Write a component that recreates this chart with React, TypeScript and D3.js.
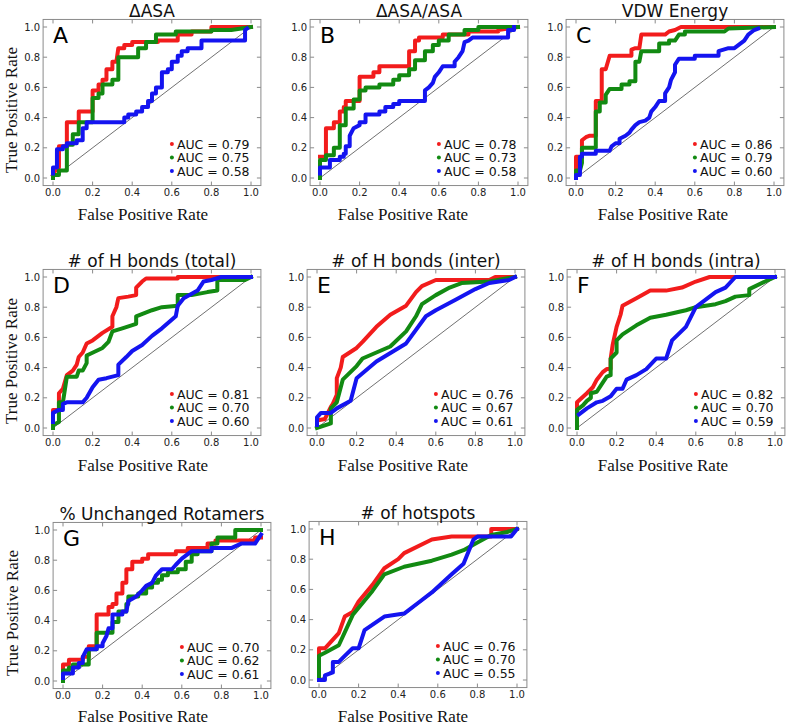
import React from "react";
import * as d3 from "d3";

type Pt = [number, number];

// ---------- data ----------
const panelTitles = ["ΔASA", "ΔASA/ASA", "VDW Energy", "# of H bonds (total)", "# of H bonds (inter)", "# of H bonds (intra)", "% Unchanged Rotamers", "# of hotspots"];
const panelLetters = ["A", "B", "C", "D", "E", "F", "G", "H"];
const aucRed = ["0.79", "0.78", "0.86", "0.81", "0.76", "0.82", "0.70", "0.76"];
const aucGreen = ["0.75", "0.73", "0.79", "0.70", "0.67", "0.70", "0.62", "0.70"];
const aucBlue = ["0.58", "0.58", "0.60", "0.60", "0.61", "0.59", "0.61", "0.55"];
const tickValues = [0, 0.2, 0.4, 0.6, 0.8, 1.0];
const tickLabels = ["0.0", "0.2", "0.4", "0.6", "0.8", "1.0"];

const aRed: Pt[] = [[0,0.02],[0.02,0.07],[0.03,0.07],[0.03,0.21],[0.05,0.21],[0.07,0.21],[0.07,0.37],[0.13,0.37],[0.13,0.44],[0.2,0.44],[0.2,0.58],[0.23,0.58],[0.23,0.62],[0.25,0.62],[0.25,0.65],[0.27,0.65],[0.27,0.72],[0.3,0.72],[0.3,0.77],[0.32,0.77],[0.33,0.86],[0.36,0.86],[0.36,0.88],[0.4,0.88],[0.4,0.9],[0.53,0.9],[0.53,0.91],[0.63,0.91],[0.63,0.95],[0.7,0.95],[0.7,0.97],[0.8,0.97],[0.8,1.0],[1,1]];
const aGreen: Pt[] = [[0,0],[0,0.02],[0.03,0.02],[0.03,0.05],[0.07,0.05],[0.07,0.22],[0.1,0.22],[0.1,0.29],[0.13,0.29],[0.13,0.37],[0.2,0.37],[0.2,0.53],[0.23,0.53],[0.23,0.56],[0.25,0.56],[0.25,0.62],[0.3,0.62],[0.3,0.65],[0.33,0.65],[0.33,0.8],[0.43,0.8],[0.43,0.86],[0.47,0.86],[0.47,0.9],[0.52,0.9],[0.52,0.95],[0.62,0.95],[0.62,0.97],[0.8,0.97],[0.8,0.98],[0.9,0.98],[1,1]];
const aBlue: Pt[] = [[0,0.03],[0,0.07],[0.02,0.07],[0.02,0.19],[0.05,0.19],[0.05,0.21],[0.07,0.21],[0.07,0.23],[0.12,0.23],[0.12,0.25],[0.15,0.25],[0.15,0.33],[0.17,0.33],[0.17,0.37],[0.36,0.37],[0.36,0.4],[0.38,0.4],[0.38,0.42],[0.42,0.42],[0.42,0.44],[0.45,0.44],[0.45,0.47],[0.48,0.47],[0.48,0.51],[0.5,0.51],[0.5,0.56],[0.52,0.56],[0.52,0.6],[0.55,0.6],[0.55,0.7],[0.58,0.7],[0.58,0.72],[0.6,0.72],[0.6,0.77],[0.63,0.77],[0.63,0.81],[0.65,0.81],[0.65,0.84],[0.68,0.84],[0.68,0.86],[0.75,0.86],[0.75,0.91],[0.97,0.91],[0.97,0.98],[0.98,0.99]];

const bRed: Pt[] = [[0,0.14],[0.03,0.14],[0.03,0.33],[0.07,0.33],[0.07,0.37],[0.1,0.37],[0.1,0.44],[0.12,0.44],[0.12,0.47],[0.13,0.47],[0.13,0.51],[0.2,0.51],[0.2,0.67],[0.27,0.67],[0.27,0.7],[0.3,0.7],[0.3,0.74],[0.45,0.74],[0.45,0.84],[0.48,0.84],[0.48,0.91],[0.5,0.91],[0.5,0.93],[0.62,0.93],[0.62,0.95],[0.75,0.95],[0.75,0.97],[0.9,0.97],[0.9,0.98],[1,1]];
const bGreen: Pt[] = [[0,0],[0,0.12],[0.03,0.12],[0.03,0.15],[0.07,0.15],[0.07,0.2],[0.1,0.2],[0.1,0.35],[0.13,0.35],[0.13,0.46],[0.17,0.46],[0.17,0.52],[0.2,0.52],[0.2,0.58],[0.23,0.58],[0.23,0.6],[0.3,0.6],[0.3,0.62],[0.37,0.62],[0.37,0.65],[0.4,0.65],[0.4,0.68],[0.45,0.68],[0.45,0.72],[0.48,0.72],[0.48,0.78],[0.53,0.78],[0.53,0.84],[0.57,0.84],[0.57,0.88],[0.6,0.88],[0.6,0.91],[0.65,0.91],[0.65,0.95],[0.73,0.95],[0.73,0.98],[0.8,0.98],[0.8,1.0],[1,1]];
const bBlue: Pt[] = [[0,0.03],[0,0.07],[0.05,0.07],[0.05,0.12],[0.1,0.12],[0.1,0.14],[0.12,0.14],[0.12,0.16],[0.13,0.16],[0.13,0.21],[0.15,0.21],[0.15,0.28],[0.17,0.33],[0.2,0.35],[0.2,0.37],[0.23,0.37],[0.23,0.42],[0.3,0.42],[0.3,0.44],[0.33,0.44],[0.33,0.47],[0.37,0.47],[0.37,0.49],[0.4,0.49],[0.4,0.51],[0.53,0.51],[0.53,0.58],[0.55,0.6],[0.57,0.63],[0.58,0.67],[0.6,0.7],[0.62,0.74],[0.68,0.74],[0.68,0.77],[0.7,0.8],[0.72,0.84],[0.73,0.9],[0.75,0.91],[0.77,0.93],[0.95,0.93],[0.95,0.98],[0.98,0.98],[0.98,1.0]];

const cRed: Pt[] = [[0,0.03],[0,0.14],[0.03,0.14],[0.03,0.25],[0.05,0.27],[0.07,0.28],[0.1,0.28],[0.1,0.51],[0.13,0.51],[0.13,0.72],[0.15,0.72],[0.17,0.81],[0.28,0.81],[0.28,0.85],[0.3,0.86],[0.32,0.86],[0.33,0.95],[0.45,0.95],[0.47,0.97],[0.5,0.98],[0.53,1.0],[1,1]];
const cGreen: Pt[] = [[0,0],[0,0.05],[0.02,0.05],[0.03,0.1],[0.03,0.2],[0.1,0.2],[0.1,0.44],[0.12,0.44],[0.12,0.5],[0.15,0.5],[0.15,0.55],[0.17,0.59],[0.23,0.59],[0.23,0.62],[0.27,0.62],[0.27,0.64],[0.3,0.64],[0.3,0.77],[0.32,0.77],[0.33,0.84],[0.42,0.84],[0.42,0.89],[0.47,0.89],[0.47,0.91],[0.5,0.91],[0.52,0.95],[0.55,0.95],[0.55,0.97],[0.75,0.97],[0.77,0.99],[1,1]];
const cBlue: Pt[] = [[0,0],[0,0.02],[0.02,0.02],[0.02,0.14],[0.03,0.14],[0.03,0.16],[0.1,0.16],[0.1,0.18],[0.17,0.18],[0.18,0.21],[0.2,0.23],[0.22,0.23],[0.22,0.26],[0.25,0.28],[0.27,0.3],[0.28,0.32],[0.3,0.35],[0.32,0.37],[0.35,0.38],[0.37,0.4],[0.38,0.44],[0.4,0.47],[0.42,0.51],[0.45,0.51],[0.45,0.56],[0.47,0.6],[0.48,0.65],[0.5,0.7],[0.5,0.75],[0.52,0.79],[0.6,0.79],[0.6,0.81],[0.72,0.81],[0.72,0.84],[0.77,0.86],[0.8,0.86],[0.82,0.88],[0.85,0.91],[0.87,0.95],[0.9,0.98],[0.92,0.99]];

const dRed: Pt[] = [[0,0.03],[0,0.12],[0.03,0.12],[0.03,0.23],[0.05,0.26],[0.07,0.35],[0.1,0.38],[0.12,0.42],[0.13,0.47],[0.15,0.5],[0.17,0.56],[0.2,0.58],[0.25,0.63],[0.3,0.67],[0.3,0.74],[0.32,0.8],[0.33,0.86],[0.38,0.87],[0.42,0.88],[0.42,0.93],[0.45,0.97],[0.47,0.99],[0.63,0.99],[0.63,1.0],[1,1]];
const dGreen: Pt[] = [[0,0],[0,0.02],[0.03,0.04],[0.03,0.17],[0.05,0.17],[0.07,0.34],[0.12,0.34],[0.13,0.38],[0.15,0.38],[0.17,0.43],[0.17,0.48],[0.25,0.53],[0.28,0.57],[0.3,0.64],[0.35,0.66],[0.42,0.69],[0.42,0.74],[0.5,0.78],[0.55,0.8],[0.63,0.81],[0.63,0.88],[0.7,0.88],[0.78,0.9],[0.83,0.91],[0.83,0.98],[0.97,0.98],[1,1]];
const dBlue: Pt[] = [[0,0.04],[0,0.1],[0.03,0.12],[0.05,0.12],[0.05,0.16],[0.07,0.17],[0.15,0.17],[0.17,0.2],[0.2,0.27],[0.23,0.32],[0.27,0.33],[0.33,0.35],[0.33,0.42],[0.37,0.47],[0.4,0.51],[0.45,0.55],[0.5,0.61],[0.55,0.66],[0.62,0.74],[0.63,0.81],[0.66,0.86],[0.73,0.91],[0.76,0.97],[0.8,0.98],[0.85,1.0],[1,1]];

const eRed: Pt[] = [[0,0.02],[0,0.05],[0.04,0.06],[0.07,0.14],[0.08,0.16],[0.1,0.22],[0.1,0.33],[0.12,0.4],[0.13,0.47],[0.2,0.53],[0.23,0.57],[0.3,0.67],[0.37,0.75],[0.45,0.81],[0.5,0.9],[0.53,0.94],[0.6,0.98],[0.87,0.98],[0.9,1.0],[1,1]];
const eGreen: Pt[] = [[0,0],[0.07,0.03],[0.07,0.13],[0.1,0.17],[0.12,0.27],[0.13,0.32],[0.2,0.41],[0.23,0.46],[0.37,0.54],[0.45,0.64],[0.5,0.74],[0.53,0.82],[0.6,0.88],[0.67,0.93],[0.73,0.96],[0.87,0.97],[1,1]];
const eBlue: Pt[] = [[0,0.02],[0,0.07],[0.02,0.1],[0.07,0.1],[0.1,0.13],[0.17,0.18],[0.2,0.33],[0.3,0.44],[0.35,0.48],[0.45,0.56],[0.55,0.74],[0.6,0.78],[0.7,0.85],[0.8,0.92],[0.87,0.96],[0.97,0.98],[1,1]];

const fRed: Pt[] = [[0,0.12],[0,0.17],[0.05,0.23],[0.08,0.27],[0.1,0.32],[0.13,0.37],[0.15,0.39],[0.17,0.39],[0.17,0.46],[0.18,0.55],[0.2,0.67],[0.22,0.75],[0.23,0.81],[0.3,0.86],[0.37,0.91],[0.45,0.91],[0.53,0.93],[0.6,0.97],[0.67,1.0],[1,1]];
const fGreen: Pt[] = [[0,0],[0,0.12],[0.03,0.15],[0.05,0.18],[0.07,0.2],[0.07,0.23],[0.1,0.24],[0.13,0.3],[0.15,0.34],[0.17,0.35],[0.17,0.46],[0.2,0.5],[0.2,0.58],[0.23,0.62],[0.3,0.68],[0.37,0.73],[0.45,0.75],[0.55,0.78],[0.6,0.8],[0.7,0.82],[0.75,0.84],[0.8,0.87],[0.87,0.88],[0.87,0.92],[0.95,0.97],[1,1]];
const fBlue: Pt[] = [[0.01,0.09],[0.05,0.13],[0.1,0.17],[0.13,0.18],[0.17,0.21],[0.2,0.26],[0.23,0.26],[0.25,0.32],[0.3,0.35],[0.35,0.39],[0.4,0.46],[0.45,0.46],[0.48,0.58],[0.55,0.67],[0.6,0.8],[0.65,0.85],[0.7,0.9],[0.75,0.93],[0.8,1.0],[0.95,1.0],[1,1]];

const gRed: Pt[] = [[0,0.07],[0,0.11],[0.03,0.11],[0.03,0.14],[0.1,0.14],[0.1,0.16],[0.13,0.16],[0.13,0.23],[0.17,0.23],[0.17,0.44],[0.23,0.44],[0.23,0.49],[0.25,0.49],[0.25,0.51],[0.27,0.51],[0.27,0.58],[0.3,0.58],[0.3,0.65],[0.32,0.65],[0.32,0.74],[0.35,0.74],[0.35,0.79],[0.4,0.79],[0.4,0.81],[0.43,0.81],[0.43,0.84],[0.57,0.84],[0.57,0.86],[0.63,0.86],[0.63,0.88],[0.73,0.88],[0.73,0.91],[0.77,0.91],[0.77,0.93],[0.97,0.93],[0.97,0.95],[1,0.95]];
const gGreen: Pt[] = [[0,0],[0,0.07],[0.03,0.07],[0.03,0.09],[0.05,0.09],[0.05,0.11],[0.13,0.11],[0.13,0.21],[0.17,0.21],[0.17,0.32],[0.25,0.32],[0.25,0.39],[0.28,0.39],[0.28,0.46],[0.32,0.46],[0.32,0.51],[0.33,0.51],[0.33,0.56],[0.38,0.56],[0.38,0.58],[0.42,0.58],[0.42,0.62],[0.45,0.62],[0.45,0.65],[0.48,0.65],[0.48,0.67],[0.5,0.67],[0.5,0.7],[0.53,0.7],[0.53,0.72],[0.58,0.72],[0.58,0.74],[0.62,0.74],[0.62,0.79],[0.65,0.79],[0.65,0.84],[0.68,0.84],[0.68,0.86],[0.75,0.86],[0.75,0.91],[0.78,0.91],[0.78,0.95],[0.87,0.95],[0.87,1.0],[1,1]];
const gBlue: Pt[] = [[0,0.02],[0,0.05],[0.05,0.05],[0.05,0.09],[0.08,0.09],[0.08,0.12],[0.1,0.12],[0.1,0.16],[0.12,0.21],[0.17,0.21],[0.17,0.23],[0.2,0.23],[0.2,0.25],[0.22,0.3],[0.23,0.35],[0.25,0.35],[0.25,0.44],[0.3,0.44],[0.3,0.46],[0.32,0.46],[0.33,0.53],[0.37,0.56],[0.4,0.6],[0.42,0.63],[0.45,0.65],[0.47,0.7],[0.5,0.74],[0.55,0.74],[0.57,0.77],[0.6,0.81],[0.65,0.86],[0.75,0.86],[0.75,0.88],[0.85,0.88],[0.9,0.91],[0.97,0.91],[1,0.97]];

const hRed: Pt[] = [[0,0.15],[0,0.21],[0.03,0.21],[0.1,0.31],[0.13,0.42],[0.17,0.45],[0.2,0.52],[0.27,0.63],[0.33,0.74],[0.4,0.8],[0.43,0.84],[0.57,0.93],[0.67,0.95],[0.87,0.95],[0.87,1.0],[1,1]];
const hGreen: Pt[] = [[0,0],[0,0.16],[0.03,0.18],[0.1,0.23],[0.17,0.43],[0.27,0.59],[0.33,0.7],[0.43,0.75],[0.57,0.79],[0.67,0.83],[0.73,0.86],[0.8,0.91],[0.87,0.96],[0.95,0.98],[1,1]];
const hBlue: Pt[] = [[0,0],[0.03,0],[0.03,0.03],[0.05,0.04],[0.07,0.05],[0.07,0.12],[0.1,0.12],[0.13,0.16],[0.17,0.21],[0.2,0.21],[0.23,0.33],[0.33,0.42],[0.43,0.44],[0.5,0.51],[0.57,0.58],[0.67,0.7],[0.73,0.77],[0.78,0.93],[0.8,0.95],[0.97,0.95],[1,1]];

const redSeries = [aRed, bRed, cRed, dRed, eRed, fRed, gRed, hRed];
const greenSeries = [aGreen, bGreen, cGreen, dGreen, eGreen, fGreen, gGreen, hGreen];
const blueSeries = [aBlue, bBlue, cBlue, dBlue, eBlue, fBlue, gBlue, hBlue];

// ---------- layout ----------
const origins: [number, number][] = [
  [53, 178], [320, 178], [576, 178],
  [53, 428], [317, 428], [577, 428],
  [63, 681], [319, 680],
];
const UNIT_W = 198;
const UNIT_H = 151;
const xLabelCenters = [143, 403, 663];
const xLabelBaselines = [220, 471, 722];
const yLabelCenters = [110, 361, 613];

const COLORS = { red: "#f21c1c", green: "#128a12", blue: "#1414f0" };
const SANS = "'DejaVu Sans', sans-serif";
const SERIF = "'Liberation Serif', 'Times New Roman', serif";

function Panel({ i }: { i: number }) {
  const [x0, y0] = origins[i];
  const x = d3.scaleLinear().domain([-0.05, 1.05]).range([x0 - 0.05 * UNIT_W, x0 + 1.05 * UNIT_W]);
  const y = d3.scaleLinear().domain([-0.05, 1.05]).range([y0 + 0.05 * UNIT_H, y0 - 1.05 * UNIT_H]);
  const [L, R] = x.range();
  const [B, T] = y.range();
  const line = d3.line<Pt>().x((d) => x(d[0])).y((d) => y(d[1]));
  const series = [
    { data: redSeries[i], color: COLORS.red, label: aucRed[i] },
    { data: greenSeries[i], color: COLORS.green, label: aucGreen[i] },
    { data: blueSeries[i], color: COLORS.blue, label: aucBlue[i] },
  ];
  const frameColor = "#8a8a8a";
  return (
    <g>
      <path d={line([[0, 0], [1, 1]]) || ""} stroke="#333" strokeWidth={0.7} fill="none" />
      {series.map((s, k) => (
        <path key={k} d={line(s.data) || ""} stroke={s.color} strokeWidth={4} fill="none" strokeLinejoin="round" strokeLinecap="square" />
      ))}
      <rect x={L} y={T} width={R - L} height={B - T} fill="none" stroke={frameColor} strokeWidth={1} />
      {tickValues.map((v, k) => (
        <g key={k}>
          <line x1={x(v)} x2={x(v)} y1={B} y2={B - 4} stroke={frameColor} />
          <line x1={x(v)} x2={x(v)} y1={T} y2={T + 4} stroke={frameColor} />
          <line x1={L} x2={L + 4} y1={y(v)} y2={y(v)} stroke={frameColor} />
          <line x1={R} x2={R - 4} y1={y(v)} y2={y(v)} stroke={frameColor} />
          <text x={x(v)} y={B + 10} fontFamily={SANS} fontSize={10} fill="#222" textAnchor="middle">{tickLabels[k]}</text>
          <text x={L - 3} y={y(v) + 3.6} fontFamily={SANS} fontSize={10} fill="#222" textAnchor="end">{tickLabels[k]}</text>
        </g>
      ))}
      <text x={(L + R) / 2} y={T - 2.5} fontFamily={SANS} fontSize={17} fill="#111" textAnchor="middle">{panelTitles[i]}</text>
      <text x={L + 10} y={T + 24} fontFamily={SANS} fontSize={22} fill="#000">{panelLetters[i]}</text>
      {series.map((s, k) => (
        <g key={k}>
          <circle cx={R - 89} cy={B - 41.5 + k * 13.5} r={2} fill={s.color} />
          <text x={R - 84} y={B - 37 + k * 13.5} fontFamily={SANS} fontSize={12.5} fill="#111">{`AUC = ${s.label}`}</text>
        </g>
      ))}
      <text x={xLabelCenters[i % 3]} y={xLabelBaselines[Math.floor(i / 3)]} fontFamily={SERIF} fontSize={17} fill="#111" textAnchor="middle">False Positive Rate</text>
      {i % 3 === 0 && (
        <text transform={`translate(${i === 6 ? 18 : 17}, ${yLabelCenters[Math.floor(i / 3)]}) rotate(-90)`} fontFamily={SERIF} fontSize={17} fill="#111" textAnchor="middle">True Positive Rate</text>
      )}
    </g>
  );
}

export default function App() {
  return (
    <svg width={787} height={728} style={{ position: "absolute", left: 0, top: 0, background: "#fff" }}>
      <rect x={0} y={0} width={787} height={728} fill="#fff" />
      {panelTitles.map((_, i) => (
        <Panel key={i} i={i} />
      ))}
    </svg>
  );
}
